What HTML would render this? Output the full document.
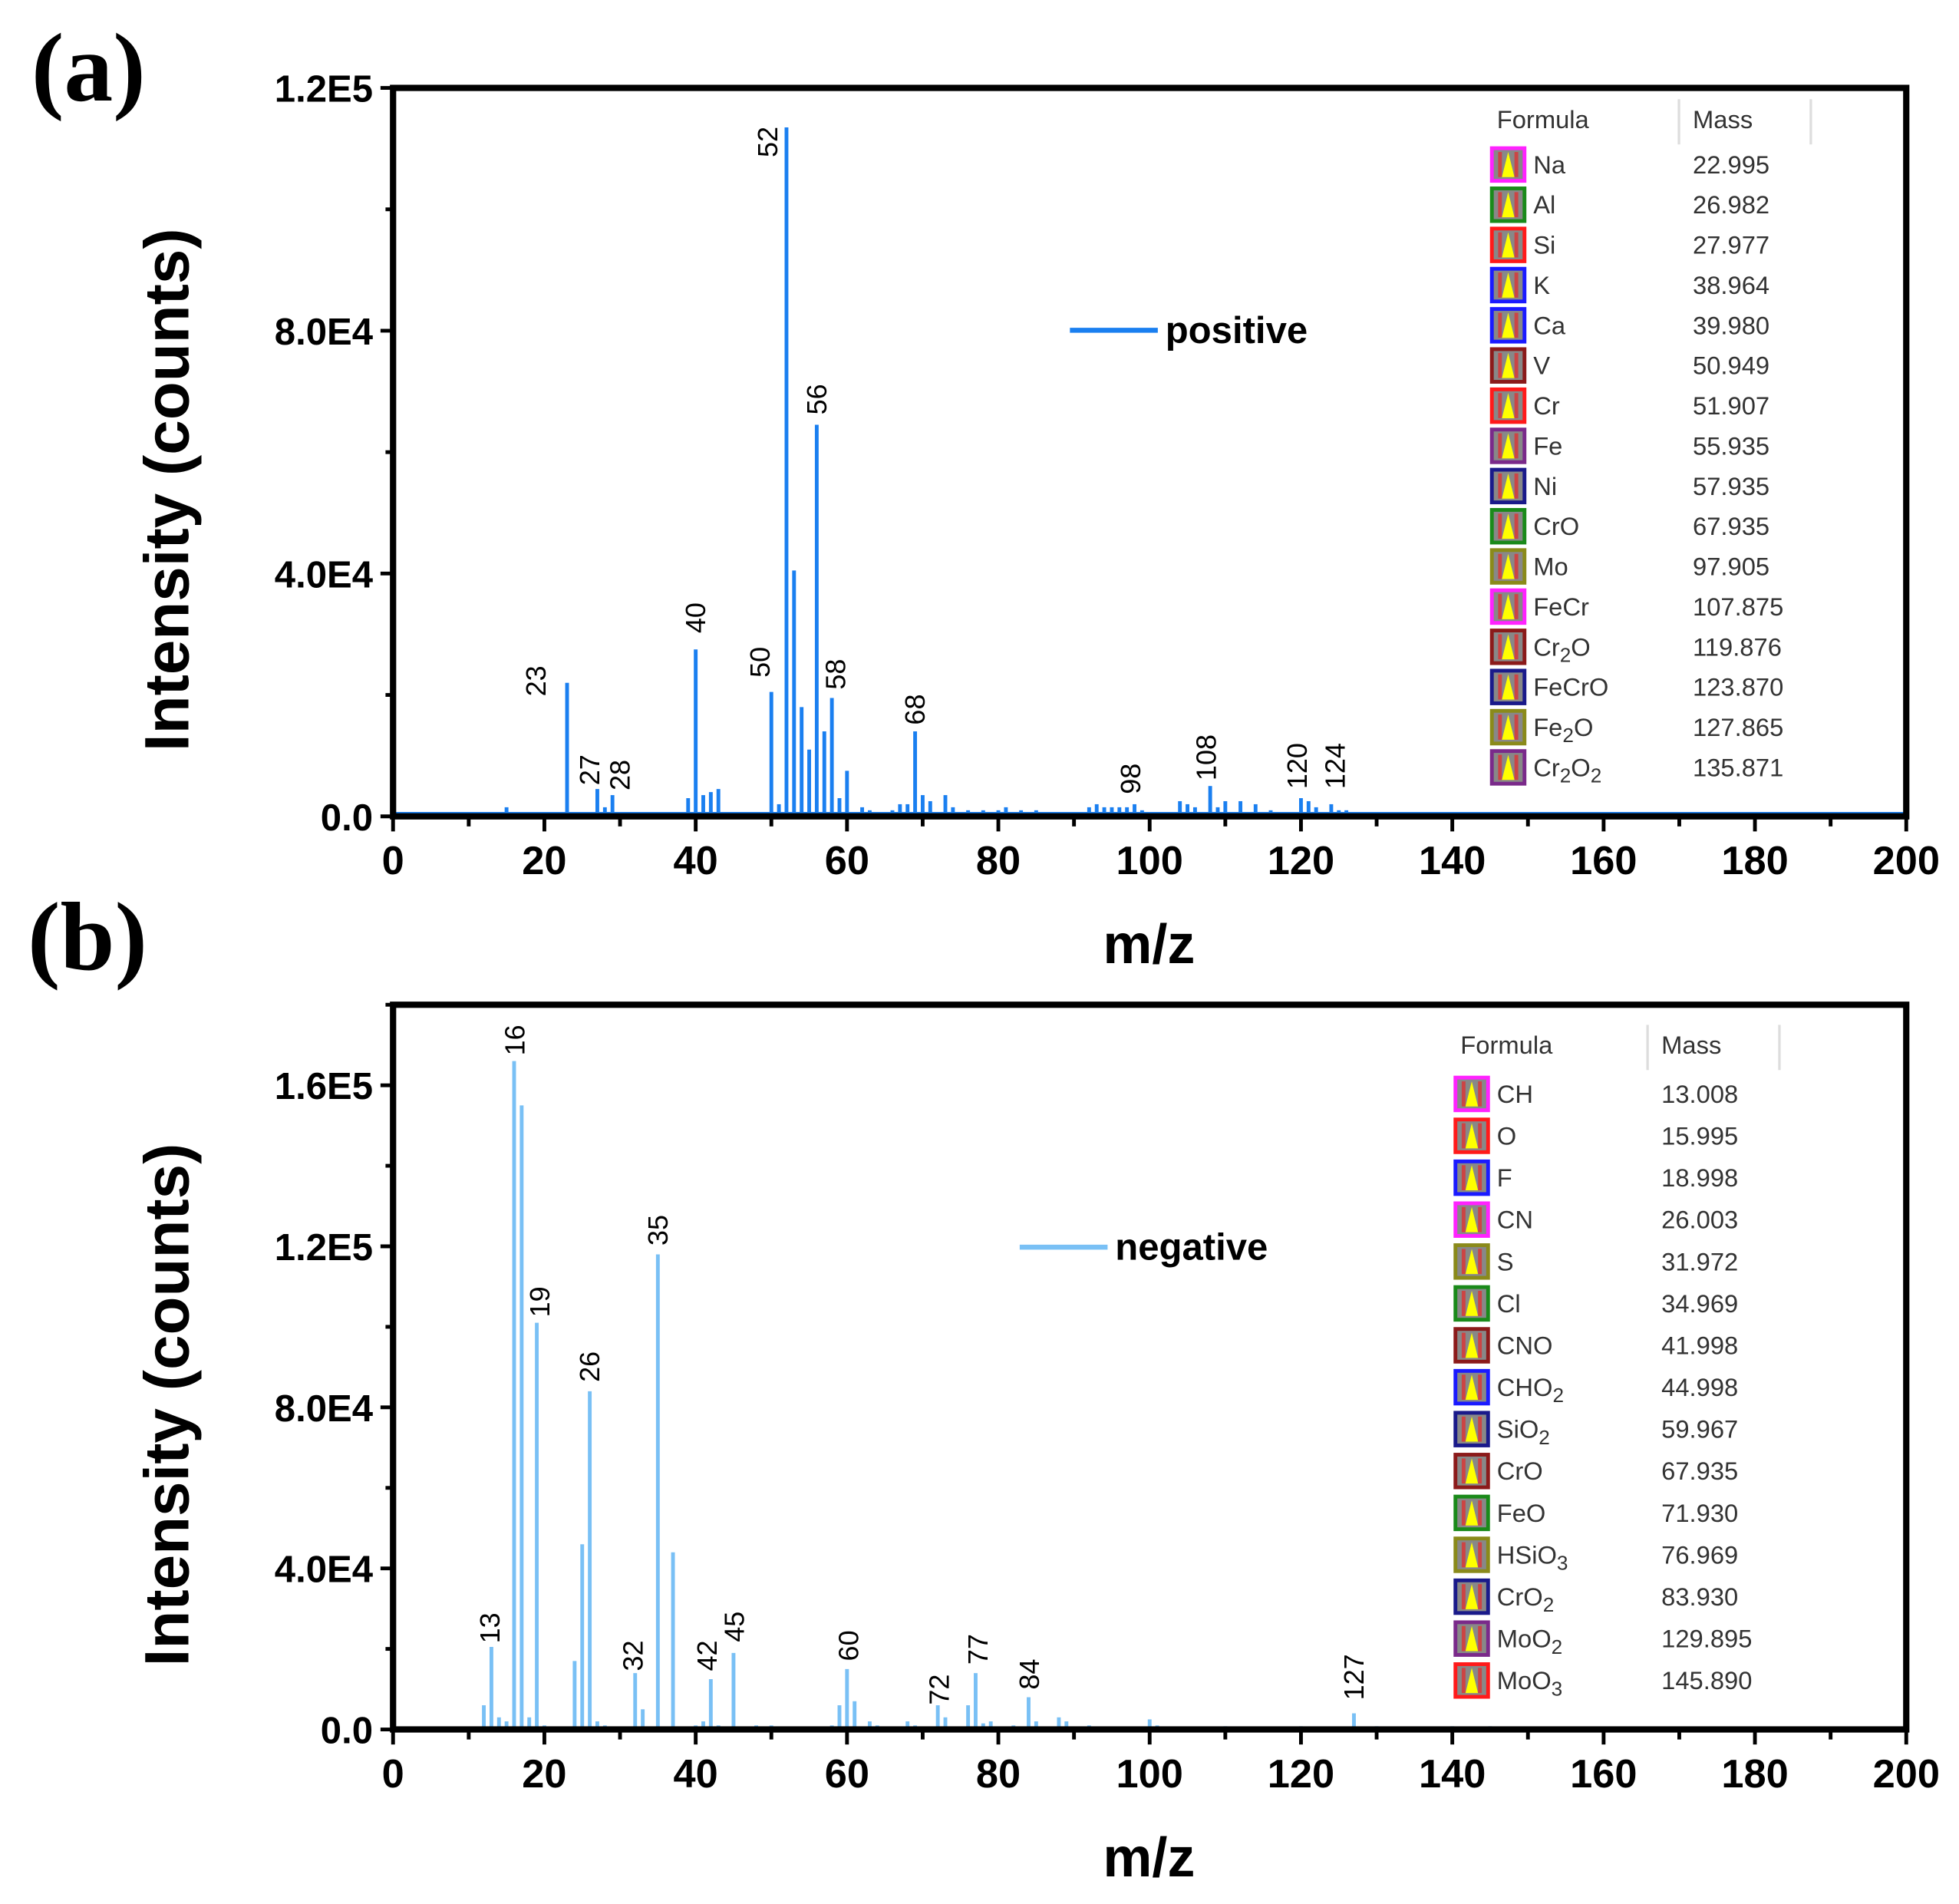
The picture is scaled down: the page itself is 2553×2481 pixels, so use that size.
<!DOCTYPE html>
<html><head><meta charset="utf-8"><style>
html,body{margin:0;padding:0;background:#fff;}
svg{display:block;}
text{font-family:"Liberation Sans",Arial,sans-serif;}
text.serif{font-family:"Liberation Serif","Times New Roman",serif;}
</style></head><body>
<svg id="chart" width="2553" height="2481" viewBox="0 0 1560 1516" preserveAspectRatio="none" xmlns="http://www.w3.org/2000/svg">
<rect width="1560" height="1516" fill="#fff"/>
</svg>
<script>
// ---------- Panel (a) data : positive ----------
const posMz  = [15,23,27,28,29,39,40,41,42,43,50,51,52,53,54,55,56,57,58,59,60,62,63,66,67,68,69,70,71,73,74,76,78,80,81,83,85,92,93,94,95,96,97,98,99,104,105,106,108,109,110,112,114,116,120,121,122,124,125,126];
const posInt = [1500,22000,4500,1500,3500,3000,27500,3500,4000,4500,20500,2000,113500,40500,18000,11000,64500,14000,19500,3000,7500,1500,1000,1000,2000,2000,14000,3500,2500,3500,1500,1000,1000,1000,1500,1000,1000,1500,2000,1500,1500,1500,1500,2000,1000,2500,2000,1500,5000,1500,2500,2500,2000,1000,3000,2500,1500,2000,1000,1000];
const posLabelText = ["23","27","28","40","50","52","56","58","68","98","108","120","124"];
const posLabelMz   = [18.9,26,30,40,48.5,49.5,56,58.5,69,97.5,107.5,119.5,124.5];
const posLabelInt  = [22300,7650,6800,32700,25400,111100,68700,23400,17600,6200,9700,8300,8300];
const posYTicks = [0,40000,80000,120000];
const posYTickLabels = ["0.0","4.0E4","8.0E4","1.2E5"];
const posFormula = ["Na","Al","Si","K","Ca","V","Cr","Fe","Ni","CrO","Mo","FeCr","Cr_2O","FeCrO","Fe_2O","Cr_2O_2"];
const posMass = ["22.995","26.982","27.977","38.964","39.980","50.949","51.907","55.935","57.935","67.935","97.905","107.875","119.876","123.870","127.865","135.871"];
const posIconColor = ["#ff22ff","#1a8a1a","#ff1a1a","#1a1aff","#1a1aff","#8b1a1a","#ff1a1a","#7a2a8a","#1a1a8a","#1a8a1a","#8a8a1a","#ff22ff","#8b1a1a","#1a1a8a","#8a8a1a","#7a2a8a"];

// ---------- Panel (b) data : negative ----------
const negMz  = [12,13,14,15,16,17,18,19,20,24,25,26,27,28,32,33,35,37,40,41,42,43,45,48,50,58,59,60,61,63,64,68,69,72,73,76,77,78,79,82,84,85,88,89,92,100,101,110,120,127,130,140,145];
const negInt = [6000,20500,3000,2000,166000,155000,3000,101000,1000,17000,46000,84000,2000,1000,14000,5000,118000,44000,1000,2000,12500,1000,19000,1000,1000,1000,6000,15000,7000,2000,1000,2000,1000,6000,3000,6000,14000,1500,2000,1000,8000,2000,3000,2000,1000,2500,1000,800,800,4000,800,800,800];
const negLabelText = ["13","16","19","26","32","35","42","45","60","72","77","84","127"];
const negLabelMz   = [12.8,16.1,19.4,26,31.7,35,41.5,45.1,60.2,72.2,77.3,84.1,127];
const negLabelInt  = [25200,171200,106200,90100,18300,124000,18300,25500,20800,9900,19900,13700,13000];
const negYTicks = [0,40000,80000,120000,160000];
const negYTickLabels = ["0.0","4.0E4","8.0E4","1.2E5","1.6E5"];
const negFormula = ["CH","O","F","CN","S","Cl","CNO","CHO_2","SiO_2","CrO","FeO","HSiO_3","CrO_2","MoO_2","MoO_3"];
const negMass = ["13.008","15.995","18.998","26.003","31.972","34.969","41.998","44.998","59.967","67.935","71.930","76.969","83.930","129.895","145.890"];
const negIconColor = ["#ff22ff","#ff1a1a","#1a1aff","#ff22ff","#8a8a1a","#1a8a1a","#8b1a1a","#1a1aff","#1a1a8a","#8b1a1a","#1a8a1a","#8a8a1a","#1a1a8a","#7a2a8a","#ff1a1a"];

const xTicks = [0,20,40,60,80,100,120,140,160,180,200];
const NS = "http://www.w3.org/2000/svg";
const svg = document.getElementById('chart');
function mk(tag, attrs, parent, txt){
  const e = document.createElementNS(NS, tag);
  for (const k in attrs) e.setAttribute(k, attrs[k]);
  if (txt !== undefined) e.textContent = txt;
  (parent||svg).appendChild(e);
  return e;
}
function addFormula(t, str){
  const parts = str.split('_');
  t.appendChild(document.createTextNode(parts[0]));
  for (let i=1;i<parts.length;i++){
    const sub = document.createElementNS(NS,'tspan');
    sub.setAttribute('font-size','16'); sub.setAttribute('dy','5');
    sub.textContent = parts[i].charAt(0);
    t.appendChild(sub);
    const rest = parts[i].slice(1);
    const back = document.createElementNS(NS,'tspan');
    back.setAttribute('dy','-5');
    back.textContent = rest.length ? rest : '\u200b';
    t.appendChild(back);
  }
}

function panel(cfg){
  const g = mk('g', {});
  
  
  const X = v => cfg.x0 + (v - 0) * (cfg.x1 - cfg.x0) / 200;
  const Y = v => cfg.y0 - v * (cfg.y0 - cfg.yTop) / cfg.yMax;

  const base = mk('line',{x1:X(0),x2:X(cfg.baseEnd),y1:Y(0)-2,y2:Y(0)-2,stroke:cfg.color,'stroke-width':3},g);
  
  
  cfg.mz.forEach((m,i)=>{
    const b = mk('line',{x1:X(m),x2:X(m),y1:Y(0),y2:Y(cfg.int[i]),stroke:cfg.color,'stroke-width':3},g);
    
    
  });
  cfg.lt.forEach((t,i)=>{
    const x = X(cfg.lm[i]), y = Y(cfg.li[i]);
    const tx = mk('text',{x:x,y:y,transform:`rotate(-90 ${x} ${y})`,'text-anchor':'middle','dominant-baseline':'central','font-size':22,fill:'#000'},g,t);
    
    
  });
  const fr = mk('rect',{x:cfg.x0,y:cfg.yTop,width:cfg.x1-cfg.x0,height:cfg.y0-cfg.yTop,fill:'none',stroke:'#000','stroke-width':5},g);
  
  
  for (let v=0; v<=200; v+=10){
    const major = v%20===0;
    mk('line',{x1:X(v),x2:X(v),y1:Y(0),y2:Y(0)+(major?12:8),stroke:'#000','stroke-width':3},g);
  }
  xTicks.forEach(v=>{
    const t = mk('text',{x:X(v),y:cfg.y0+46,'text-anchor':'middle','font-size':32,'font-weight':'bold'},g,String(v));
    
    
  });
  for (let v=0; v<=cfg.yMax+1; v+=20000){
    const major = v%40000===0;
    mk('line',{x1:cfg.x0,x2:cfg.x0-(major?10:6),y1:Y(v),y2:Y(v),stroke:'#000','stroke-width':3},g);
  }
  cfg.yt.forEach((v,i)=>{
    const t = mk('text',{x:cfg.x0-16,y:Y(v)+11,'text-anchor':'end','font-size':30,'font-weight':'bold'},g,cfg.ytl[i]);
    
    
  });
  const xt = mk('text',{x:915,y:cfg.y0+117,'text-anchor':'middle','font-size':44,'font-weight':'bold'},g,'m/z');
  
  
  const cy = (cfg.y0+cfg.yTop)/2 + 30;
  const yt = mk('text',{x:150,y:cy,transform:`rotate(-90 150 ${cy})`,'text-anchor':'middle','font-size':50,'font-weight':'bold'},g,'Intensity (counts)');
  
  
  const pl = mk('text',{x:cfg.letterX,y:cfg.letterY,'font-size':78,'font-weight':'bold',class:'serif'},g,cfg.letter);
  
  
  const lg = mk('g',{},g);
  
  
  mk('line',{x1:cfg.legX,x2:cfg.legX+70,y1:cfg.legY,y2:cfg.legY,stroke:cfg.color,'stroke-width':4},lg);
  mk('text',{x:cfg.legX+76,y:cfg.legY+10,'font-size':30,'font-weight':'bold'},lg,cfg.legText);
  const tb = mk('g',{},g);
  
  
  mk('text',{x:cfg.tX,y:cfg.tY+7,'font-size':20,fill:'#333'},tb,'Formula');
  mk('text',{x:cfg.mX,y:cfg.tY+7,'font-size':20,fill:'#333'},tb,'Mass');
  mk('line',{x1:cfg.mX-11,x2:cfg.mX-11,y1:cfg.tY-16,y2:cfg.tY+20,stroke:'#ddd','stroke-width':2},tb);
  mk('line',{x1:cfg.mX+94,x2:cfg.mX+94,y1:cfg.tY-16,y2:cfg.tY+20,stroke:'#ddd','stroke-width':2},tb);
  cfg.form.forEach((f,i)=>{
    const ry = cfg.rY + i*cfg.rStep;
    const row = mk('g',{},tb);
    
    
    const ix = cfg.tX-4;
    mk('rect',{x:ix,y:ry-13,width:26,height:26,fill:'#888',stroke:cfg.ic[i],'stroke-width':3},row);
    mk('rect',{x:ix+5,y:ry-10,width:3,height:20,fill:'#c44'},row);
    mk('rect',{x:ix+18,y:ry-10,width:3,height:20,fill:'#c44'},row);
    mk('polygon',{points:`${ix+13},${ry-10} ${ix+8},${ry+10} ${ix+18},${ry+10}`,fill:'#ff0'},row);
    const ft = mk('text',{x:cfg.tX+29,y:ry+7,'font-size':20,fill:'#333'},row);
    addFormula(ft,f);
    mk('text',{x:cfg.mX,y:ry+7,'font-size':20,fill:'#333'},row,cfg.mass[i]);
  });
}

panel({name:'panel-a-positive',x0:313,x1:1518,y0:650,yTop:70,yMax:120000,color:'#1a7ff0',baseEnd:200,
  mz:posMz,int:posInt,lt:posLabelText,lm:posLabelMz,li:posLabelInt,yt:posYTicks,ytl:posYTickLabels,
  letter:'(a)',letterX:25,letterY:80,legX:852,legY:263,legText:'positive',
  tX:1192,tY:95,mX:1348,rY:131,rStep:32,form:posFormula,mass:posMass,ic:posIconColor});
panel({name:'panel-b-negative',x0:313,x1:1518,y0:1377,yTop:800,yMax:180000,color:'#79c0f5',baseEnd:0,
  mz:negMz,int:negInt,lt:negLabelText,lm:negLabelMz,li:negLabelInt,yt:negYTicks,ytl:negYTickLabels,
  letter:'(b)',letterX:22,letterY:772,legX:812,legY:993,legText:'negative',
  tX:1163,tY:832,mX:1323,rY:871,rStep:33.36,form:negFormula,mass:negMass,ic:negIconColor});
</script>
</body></html>
